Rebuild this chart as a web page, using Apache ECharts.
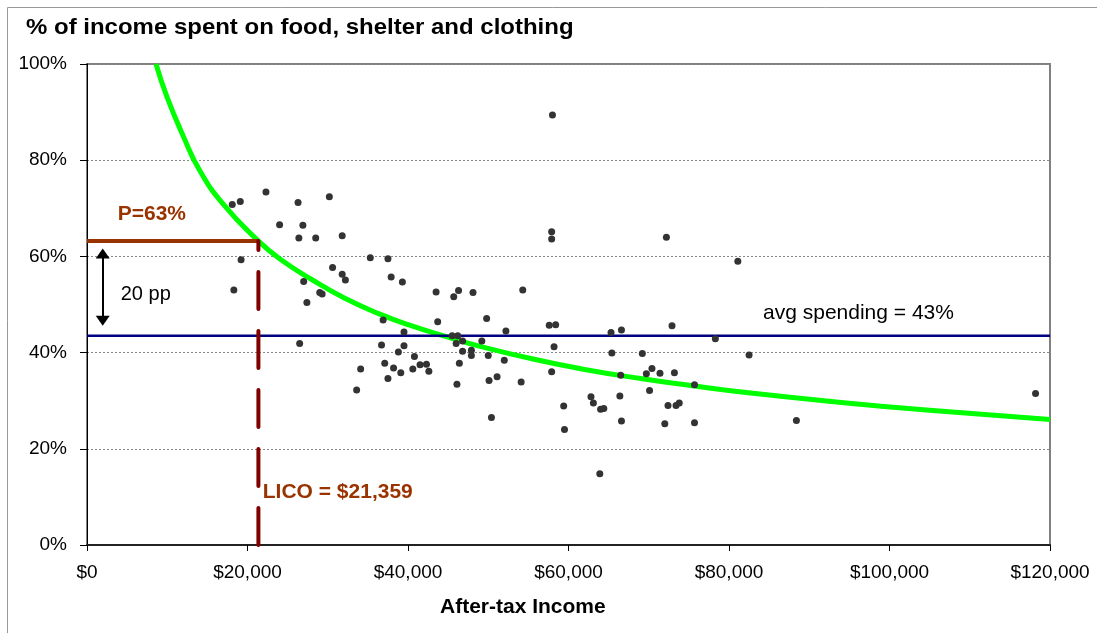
<!DOCTYPE html>
<html><head><meta charset="utf-8">
<script src="https://cdn.jsdelivr.net/npm/echarts@6/dist/echarts.min.js"></script>
<style>html,body{margin:0;padding:0;background:#fff}#c{width:1097px;height:633px}</style>
</head><body><div id="c"></div>
<script>
// Household after-tax income ($) and share of income spent on necessities (%)
const incomes = [18100,19100,22300,26300,30200,24000,26900,26400,28500,31800,
  19200,18300,35300,37500,30600,31800,32200,27000,37900,39300,
  29000,29300,27400,43500,46300,45700,48100,36900,43700,26500,
  36700,39500,39500,38800,40800,45500,46200,46000,46800,46800,
  47900,47900,37100,38200,41500,42300,42600,40600,39100,46400,
  34100,37500,46100,33600,58000,57900,57900,72200,81100,54300,
  49800,52200,49200,50000,52000,50100,51100,54100,50400,57600,
  58400,58200,57900,59400,59500,62800,63100,64000,64400,63900,
  65300,66600,65400,66500,66400,66600,69200,69700,70400,71400,
  70100,72400,73400,73800,72000,72900,73200,75700,75700,78300,
  82500,88400,118200];
const shares = [70.8,71.4,73.4,71.2,72.4,66.6,66.5,63.8,63.8,64.3,
  59.3,53.0,59.7,59.5,57.7,56.3,55.1,54.8,55.7,54.7,
  52.5,52.2,50.4,52.6,52.9,51.6,52.5,46.8,46.4,41.9,
  41.6,44.3,41.4,40.1,39.2,43.5,43.5,41.9,42.4,40.3,
  40.5,39.4,37.8,36.8,37.5,37.6,36.1,36.6,35.8,37.8,
  36.6,34.6,33.4,32.2,89.4,65.1,63.6,64.0,59.0,53.0,
  47.1,44.5,42.4,39.4,38.4,34.2,35.0,33.9,26.5,45.7,
  45.8,41.2,36.0,28.9,24.0,30.8,29.5,28.2,28.4,14.8,
  44.2,44.7,39.9,35.3,31.0,25.8,39.8,35.6,36.7,35.7,
  32.1,29.0,29.0,29.5,25.2,45.6,35.8,33.3,25.4,42.9,
  39.5,25.9,31.5];
// Fitted curve
const curveIncome = [8600,10000,12000,14000,17000,21359,24000,28000,32000,36500,40000,45000,49000,56000,62000,69000,75000,81000,93000,105000,120000];
const curvePct    = [100,93,85,78,70.8,63.2,59.5,55.2,51.4,48,45.8,43.2,41.3,38.5,36.5,34.6,33.2,31.9,29.8,28,26.1];
const avgSpending = 43.5;
const licoIncome = 21359;
const licoPct = 63.2;
const xTickValues = [0,20000,40000,60000,80000,100000,120000];
const xTickLabels = ['$0','$20,000','$40,000','$60,000','$80,000','$100,000','$120,000'];
const yTickValues = [0,20,40,60,80,100];
const yTickLabels = ['0%','20%','40%','60%','80%','100%'];

const FONT = "'Liberation Sans', Arial, sans-serif";
const chart = echarts.init(document.getElementById('c'), null, {renderer:'canvas'});

const points = incomes.map((v,i)=>[v, shares[i]]);
const curve = curveIncome.map((v,i)=>[v, curvePct[i]]);

chart.setOption({
  animation:false,
  backgroundColor:'#fff',
  textStyle:{fontFamily:FONT},
  grid:{left:87, right:47, top:64, bottom:88, show:true, borderColor:'#808080', borderWidth:2, backgroundColor:'#fff'},
  xAxis:{type:'value', min:0, max:120000, interval:20000,
    axisLine:{show:true, lineStyle:{color:'#222', width:2}},
    axisTick:{show:true, length:6, lineStyle:{color:'#000'}},
    splitLine:{show:false},
    axisLabel:{margin:18, fontSize:19, color:'#000', fontFamily:FONT,
      formatter:v=>{const i=xTickValues.indexOf(v); return i>=0?xTickLabels[i]:'';}}},
  yAxis:{type:'value', min:0, max:100, interval:20,
    axisLine:{show:true, lineStyle:{color:'#000', width:1}},
    axisTick:{show:true, length:7, lineStyle:{color:'#000'}},
    splitLine:{show:true, lineStyle:{color:'#888', width:1, type:[2,2]}},
    axisLabel:{margin:20, fontSize:19, color:'#000', fontFamily:FONT,
      formatter:v=>{const i=yTickValues.indexOf(v); return i>=0?yTickLabels[i]:'';}}},
  graphic:[
    {type:'rect', shape:{x:7.5,y:7.5,width:1300,height:800}, style:{fill:null, stroke:'#999', lineWidth:1}, z:-1},
    {type:'text', x:26, y:17, scaleX:1.09, style:{text:'% of income spent on food, shelter and clothing', font:"bold 22px 'Liberation Sans', Arial, sans-serif", fill:'#000'}},
    {type:'text', x:440, y:597, scaleX:1.05, style:{text:'After-tax Income', font:"bold 20px 'Liberation Sans', Arial, sans-serif", fill:'#000'}}
  ],
  series:[
    {type:'line', data:curve, smooth:0.5, symbol:'none', lineStyle:{color:'#00ff00', width:5}, z:2, silent:true},
    {type:'line', data:[[0,avgSpending],[120000,avgSpending]], symbol:'none', lineStyle:{color:'#000080', width:2.5}, z:3, silent:true,
      markLine:{silent:true, symbol:['triangle','triangle'], symbolSize:[14,10], label:{show:false},
        lineStyle:{color:'#000', width:2, type:'solid'},
        data:[[{coord:[1960,60.6]},{coord:[1960,46.6]}]]}},
    {type:'line', data:[[0,licoPct],[licoIncome,licoPct]], symbol:'none', lineStyle:{color:'#993300', width:4}, z:4, silent:true},
    {type:'line', data:[[licoIncome,0],[licoIncome,licoPct]], symbol:'none', lineStyle:{color:'#800000', width:4, type:[37,22], cap:'round'}, z:5, silent:true},
    {type:'scatter', data:points, symbol:'circle', symbolSize:7, itemStyle:{color:'#333', opacity:1}, z:6, silent:true},
    {type:'scatter', symbolSize:0, z:7, silent:true, itemStyle:{opacity:1},
      label:{show:true, position:'right', distance:0, fontFamily:FONT, fontSize:20, color:'#000'},
      data:[
        {value:[3830,68.8], label:{formatter:'P=63%', color:'#993300', fontWeight:'bold', fontSize:21}},
        {value:[4200,52], label:{formatter:'20 pp'}},
        {value:[21900,11], label:{formatter:'LICO = $21,359', color:'#993300', fontWeight:'bold', fontSize:21}},
        {value:[84240,48.2], label:{formatter:'avg spending = 43%', fontSize:21}}
      ]}
  ]
});
</script></body></html>
